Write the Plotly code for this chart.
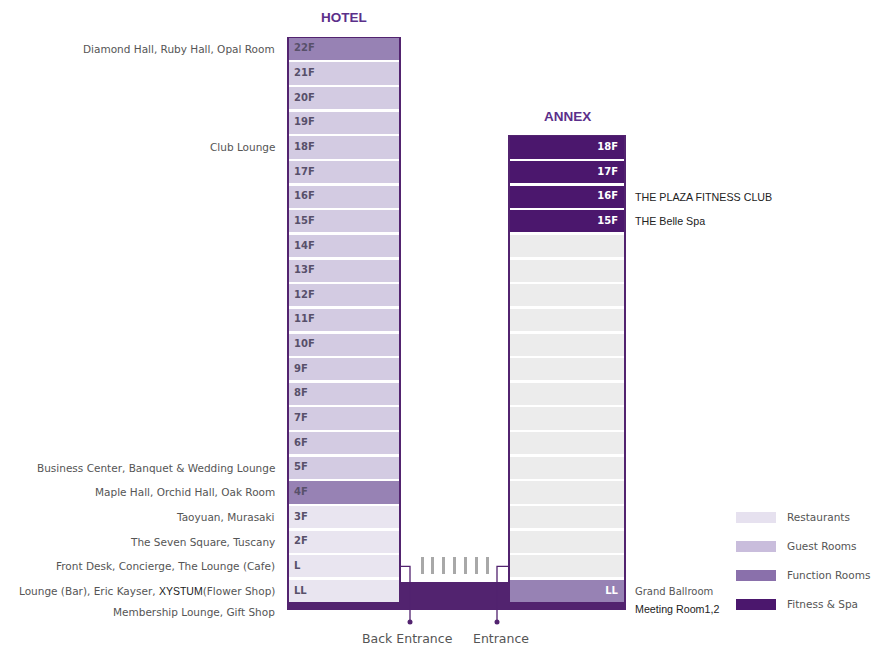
import plotly.graph_objects as go

# ---------------- data ----------------
hotel_floors = ["LL", "L", "2F", "3F", "4F", "5F", "6F", "7F", "8F", "9F", "10F", "11F",
                "12F", "13F", "14F", "15F", "16F", "17F", "18F", "19F", "20F", "21F", "22F"]
hotel_use = ["Restaurants", "Restaurants", "Restaurants", "Restaurants", "Function Rooms",
             "Guest Rooms", "Guest Rooms", "Guest Rooms", "Guest Rooms", "Guest Rooms",
             "Guest Rooms", "Guest Rooms", "Guest Rooms", "Guest Rooms", "Guest Rooms",
             "Guest Rooms", "Guest Rooms", "Guest Rooms", "Guest Rooms", "Guest Rooms",
             "Guest Rooms", "Guest Rooms", "Function Rooms"]

annex_floors = ["LL", "L", "2F", "3F", "4F", "5F", "6F", "7F", "8F", "9F", "10F", "11F",
                "12F", "13F", "14F", "15F", "16F", "17F", "18F"]
annex_use = ["Function Rooms", "Vacant", "Vacant", "Vacant", "Vacant", "Vacant", "Vacant",
             "Vacant", "Vacant", "Vacant", "Vacant", "Vacant", "Vacant", "Vacant", "Vacant",
             "Fitness & Spa", "Fitness & Spa", "Fitness & Spa", "Fitness & Spa"]

hotel_notes = {
    "22F": ["Diamond Hall, Ruby Hall, Opal Room"],
    "18F": ["Club Lounge"],
    "5F": ["Business Center, Banquet & Wedding Lounge"],
    "4F": ["Maple Hall, Orchid Hall, Oak Room"],
    "3F": ["Taoyuan, Murasaki"],
    "2F": ["The Seven Square, Tuscany"],
    "L": ["Front Desk, Concierge, The Lounge (Cafe)"],
    "LL": ["Lounge (Bar), Eric Kayser, <span style='font-family:Liberation Sans Narrow, Arial Narrow, Liberation Sans, sans-serif;color:#222'>XYSTUM</span>(Flower Shop)",
           "Membership Lounge, Gift Shop"],
}
annex_notes = {
    "16F": ["THE PLAZA FITNESS CLUB"],
    "15F": ["THE Belle Spa"],
    "LL": ["Grand Ballroom", "Meeting Room1,2"],
}
narrow_notes = ["THE PLAZA FITNESS CLUB", "THE Belle Spa", "Meeting Room1,2"]

legend_items = ["Restaurants", "Guest Rooms", "Function Rooms", "Fitness & Spa"]
entrance_labels = ["Back Entrance", "Entrance"]
buildings = ["HOTEL", "ANNEX"]

# ---------------- style / layout ----------------
W, H = 893, 650
PITCH = 24.64          # pixels per floor row
ROW0_PX = 591          # pixel row of LL centre
CELL_H = 0.9
USE_COLORS = {
    "Restaurants": "#e9e5f0",
    "Guest Rooms": "#d3cbe2",
    "Function Rooms": "#9782b4",
    "Fitness & Spa": "#4b176d",
    "Vacant": "#ececec",
}
LEGEND_COLORS = {
    "Restaurants": "#e6e1ef",
    "Guest Rooms": "#c9bddc",
    "Function Rooms": "#8a70ab",
    "Fitness & Spa": "#4b176d",
}
FRAME_C = "#52236f"
TITLE_C = "#5b2f8a"
GRAY_T = "#555555"
FONT = "DejaVu Sans, Verdana, sans-serif"
TFONT = "Liberation Sans, Arial, sans-serif"
NARROW = "Liberation Sans Narrow, Arial Narrow, Liberation Sans, sans-serif"

HOTEL_X = (287, 401)
ANNEX_X = (508, 626)
INSET = 2
BASE_BOTTOM = -0.77
PODIUM_TOP = 0.37


def px(dy):
    return dy / PITCH


fig = go.Figure()

# building frames + podium
for (x0, x1), floors in [(HOTEL_X, hotel_floors), (ANNEX_X, annex_floors)]:
    top = len(floors) - 1 + 0.5
    fig.add_trace(go.Bar(x=[(x0 + x1) / 2], y=[top - BASE_BOTTOM], base=[BASE_BOTTOM],
                         width=[x1 - x0], marker_color=FRAME_C, marker_line_width=0,
                         showlegend=False, hoverinfo="skip"))
    fig.add_trace(go.Bar(x=[(x0 + x1) / 2], y=[top - px(1.2) - (-CELL_H / 2)],
                         base=[-CELL_H / 2], width=[x1 - x0 - 2 * INSET],
                         marker_color="white", marker_line_width=0,
                         showlegend=False, hoverinfo="skip"))

fig.add_trace(go.Bar(x=[(HOTEL_X[1] + ANNEX_X[0]) / 2], y=[PODIUM_TOP - BASE_BOTTOM],
                     base=[BASE_BOTTOM], width=[ANNEX_X[0] - HOTEL_X[1] + 1],
                     marker_color=FRAME_C, marker_line_width=0,
                     showlegend=False, hoverinfo="skip"))

# floor cells grouped by use
for use, color in USE_COLORS.items():
    xs, ys, bs, ws = [], [], [], []
    for (x0, x1), uses in [(HOTEL_X, hotel_use), (ANNEX_X, annex_use)]:
        for i, u in enumerate(uses):
            if u == use:
                xs.append((x0 + x1) / 2)
                ys.append(CELL_H)
                bs.append(i - CELL_H / 2)
                ws.append(x1 - x0 - 2 * INSET)
    fig.add_trace(go.Bar(x=xs, y=ys, base=bs, width=ws, marker_color=color,
                         marker_line_width=0, name=use, showlegend=False,
                         hoverinfo="skip"))

# floor labels
fig.add_trace(go.Scatter(
    x=[HOTEL_X[0] + 7] * len(hotel_floors), y=list(range(len(hotel_floors))),
    mode="text", text=[f"<b>{f}</b>" for f in hotel_floors],
    textposition="middle right",
    textfont=dict(family=FONT, size=10, color="#58506a"),
    showlegend=False, hoverinfo="skip"))
ax, ay, at = [], [], []
for i, (f, u) in enumerate(zip(annex_floors, annex_use)):
    if u != "Vacant":
        ax.append(ANNEX_X[1] - 8)
        ay.append(i)
        at.append(f"<b>{f}</b>")
fig.add_trace(go.Scatter(x=ax, y=ay, mode="text", text=at, textposition="middle left",
                         textfont=dict(family=FONT, size=10, color="white"),
                         showlegend=False, hoverinfo="skip"))

# notes
annotations = []
for f, lines in hotel_notes.items():
    i = hotel_floors.index(f)
    for k, line in enumerate(lines):
        annotations.append(dict(x=HOTEL_X[0] - 10, y=i - k * px(21), text=line,
                                xanchor="right", yanchor="middle", showarrow=False,
                                font=dict(family=FONT, size=10.5, color=GRAY_T)))
for f, lines in annex_notes.items():
    i = annex_floors.index(f)
    for k, line in enumerate(lines):
        narrow = line in narrow_notes
        annotations.append(dict(x=ANNEX_X[1] + 7, y=i - k * px(18), text=line,
                                xanchor="left", yanchor="middle", showarrow=False,
                                font=dict(family=NARROW if narrow else FONT,
                                          size=10.7 if narrow else 10,
                                          color="#222222" if narrow else GRAY_T)))

# building titles
for name, (x0, x1), floors in [(buildings[0], HOTEL_X, hotel_floors),
                               (buildings[1], ANNEX_X, annex_floors)]:
    annotations.append(dict(x=(x0 + x1) / 2, y=len(floors) - 1 + 0.5 + px(19),
                            text=f"<b>{name}</b>", showarrow=False,
                            xanchor="center", yanchor="middle",
                            font=dict(family=TFONT, size=13.5, color=TITLE_C)))

# gate marks between buildings
n_marks = 7
mx0, mx1 = HOTEL_X[1] + 21, ANNEX_X[0] - 21
mark_x = [mx0 + k * (mx1 - mx0) / (n_marks - 1) for k in range(n_marks)]
fig.add_trace(go.Bar(x=mark_x, y=[px(17)] * n_marks, base=[1 - px(8)] * n_marks,
                     width=[3] * n_marks, marker_color="#a8a8a8", marker_line_width=0,
                     showlegend=False, hoverinfo="skip"))

# entrance pointers
entry_row = hotel_floors.index("L")
drop = -1.26
for label, edge, stem in [(entrance_labels[0], HOTEL_X[1], HOTEL_X[1] + 9),
                          (entrance_labels[1], ANNEX_X[0], ANNEX_X[0] - 11)]:
    fig.add_trace(go.Scatter(x=[edge, stem, stem], y=[entry_row, entry_row, drop],
                             mode="lines", line=dict(color=FRAME_C, width=1.3),
                             showlegend=False, hoverinfo="skip"))
    fig.add_trace(go.Scatter(x=[stem], y=[drop], mode="markers",
                             marker=dict(color=FRAME_C, size=5),
                             showlegend=False, hoverinfo="skip"))
    annotations.append(dict(x=stem - 3 if label == entrance_labels[0] else stem + 4,
                            y=drop - px(16), text=label, showarrow=False,
                            xanchor="center", yanchor="middle",
                            font=dict(family=FONT, size=12.5, color=GRAY_T)))

# legend
LEG_X0, LEG_W, LEG_H = 736, 40, 11
leg_y0 = 3.0
leg_step = px(29)
for k, item in enumerate(legend_items):
    yk = leg_y0 - k * leg_step
    fig.add_trace(go.Bar(x=[LEG_X0 + LEG_W / 2], y=[px(LEG_H)], base=[yk - px(LEG_H) / 2],
                         width=[LEG_W], marker_color=LEGEND_COLORS[item],
                         marker_line_width=0, showlegend=False, hoverinfo="skip"))
    annotations.append(dict(x=LEG_X0 + LEG_W + 9, y=yk, text=item, showarrow=False,
                            xanchor="left", yanchor="middle",
                            font=dict(family=FONT, size=10.5, color=GRAY_T)))

fig.update_layout(
    width=W, height=H, margin=dict(l=0, r=0, t=0, b=0),
    paper_bgcolor="white", plot_bgcolor="white",
    barmode="overlay", bargap=0, hovermode=False,
    xaxis=dict(range=[0, W], visible=False, fixedrange=True),
    yaxis=dict(range=[-(H - ROW0_PX) / PITCH, ROW0_PX / PITCH], visible=False,
               fixedrange=True),
    annotations=annotations,
    showlegend=False,
)

fig.write_html("out.html", config={"displayModeBar": False},
               post_script="document.body.style.margin='0';")
